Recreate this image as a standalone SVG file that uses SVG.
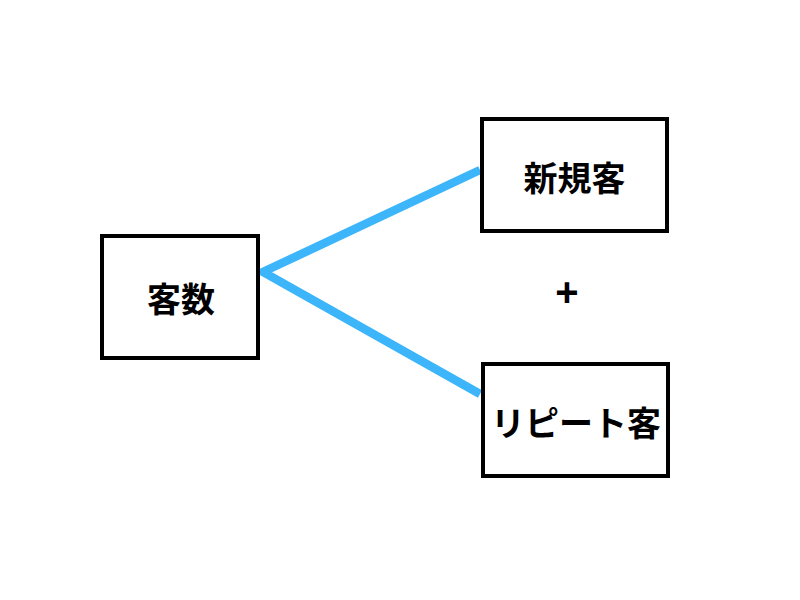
<svg xmlns="http://www.w3.org/2000/svg" width="800" height="600" viewBox="0 0 800 600">
<style>
.box{fill:#fff;stroke:#000;stroke-width:4}
.lbl{font-family:"Noto Sans CJK JP","Noto Sans",sans-serif;font-weight:bold;font-size:34px;fill:#000;text-anchor:middle;dominant-baseline:central}
.plus{font-family:"Liberation Sans",sans-serif;font-weight:bold;font-size:40px;fill:#000;text-anchor:middle;dominant-baseline:central}
.conn{stroke:#3cb5fb;stroke-width:8.5;fill:none;stroke-linecap:butt;stroke-linejoin:miter}
</style>
<rect width="800" height="600" fill="#fff"/>
<g id="connectors">
<polyline class="conn" points="480,170 263,272 480,394"/>
</g>
<g id="n-kyakusu">
<rect class="box" x="102" y="236" width="156" height="122"/>
<text class="lbl" x="181" y="297">客数</text>
</g>
<g id="n-shinki">
<rect class="box" x="482" y="119" width="185" height="112"/>
<text class="lbl" x="574.5" y="176">新規客</text>
</g>
<g id="n-repeat">
<rect class="box" x="483" y="364" width="185" height="112"/>
<text class="lbl" x="576" y="421">リピート客</text>
</g>
<text class="plus" x="567" y="292">+</text>
</svg>
